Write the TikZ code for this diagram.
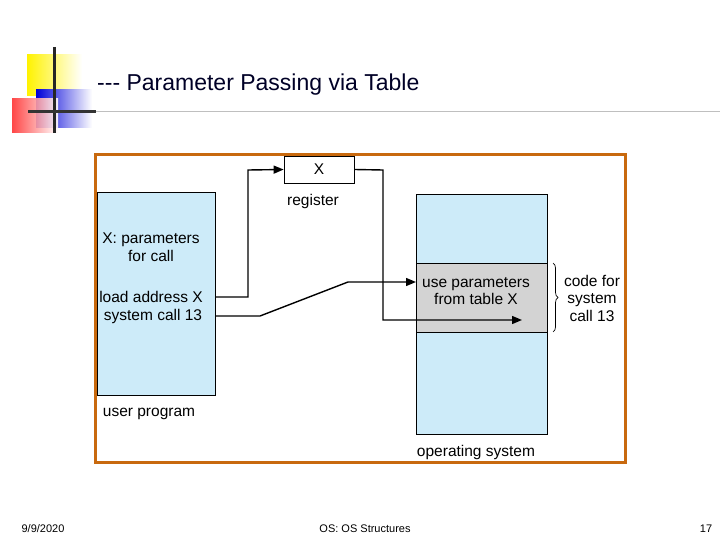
\documentclass[tikz,border=0pt]{standalone}
\usepackage{fontspec}
\setmainfont{Liberation Sans}
\usetikzlibrary{arrows.meta,decorations.pathreplacing}
\definecolor{ublue}{HTML}{CDEBF9}
\definecolor{frameor}{HTML}{C8690E}
\definecolor{band}{HTML}{D3D3D3}
\tikzset{
  lbl/.style={font=\fontsize{15.5}{17.5}\selectfont, inner sep=0pt, align=center},
  foot/.style={font=\fontsize{11}{12}\selectfont, inner sep=0pt},
  conn/.style={line width=1.4pt, -{Triangle[length=10pt,width=8pt]}},
  mem/.style={fill=ublue, draw=black, line width=0.7pt}
}
\begin{document}
\begin{tikzpicture}[x=1pt,y=-1pt]
\useasboundingbox (0,0) rectangle (720,540);
% decoration
\shade[left color=yellow!90!orange, right color=white] (27,55) rectangle (82,96);
\shade[left color=blue!85!black, right color=white] (36,90) rectangle (92,128);
\shade[left color=red!80, right color=white, opacity=0.9] (12,99) rectangle (58,133);
\draw[line width=3pt, black!85] (54,47) -- (54,133);
\draw[line width=3pt, black!80] (28,112) -- (96,112);
\draw[line width=1pt, black!25] (96,112) -- (720,112);
\node[anchor=west, inner sep=0pt, font=\fontsize{23}{25}\selectfont, text=black!85!blue] (title) at (97,85) {{-}{-}{-} Parameter Passing via Table};
% frame
\node[draw=frameor, line width=3pt, minimum width=530pt, minimum height=307pt, inner sep=0pt] (frame) at (360,308.5) {};
% memory boxes
\node[mem, minimum width=118pt, minimum height=203pt, inner sep=0pt] (user) at (156,293.5) {};
\node[mem, minimum width=131pt, minimum height=240pt, inner sep=0pt] (os) at (481.5,314) {};
\node[fill=band, draw=black, line width=0.7pt, minimum width=131pt, minimum height=69pt, inner sep=0pt] (code) at (481.5,297.5) {};
\node[draw=black, fill=white, line width=0.7pt, minimum width=70pt, minimum height=27pt, inner sep=0pt, lbl] (reg) at (319,169.5) {X};
\node[lbl] (regl) at (313,201) {register};
\node[lbl] (xp) at (151,247) {X: parameters\\for call};
\node[lbl] (la) at (151,297) {load address X};
\node[lbl] (sc) at (153,316) {system call 13};
\node[lbl] (up) at (149,414) {user program};
\node[lbl] (osl) at (476,452) {operating system};
\node[lbl] (use) at (476,291) {use parameters\\from table X};
\node[lbl] (cf) at (592,298) {code for\\system\\call 13};
\draw[decorate, decoration={brace, amplitude=5pt}, line width=0.7pt] (553,263) -- (553,332);
% connectors
\coordinate (ua) at (216,297);
\coordinate (us) at (216,316);
\coordinate (t1) at (522,320);
\coordinate (t2) at (416,282);
\draw[conn] (ua) -- (248,297) -- (248,170) -- (reg.west);
\draw[conn] (reg.east) -- (383,170) -- (383,320) -- (t1);
\draw[conn] (us) -- (260,316) -- (348,282) -- (t2);
% footer
\node[foot] (date) at (43,529) {9/9/2020};
\node[foot] (ft) at (365,529) {OS: OS Structures};
\node[foot] (pg) at (706,529) {17};
\end{tikzpicture}
\end{document}
